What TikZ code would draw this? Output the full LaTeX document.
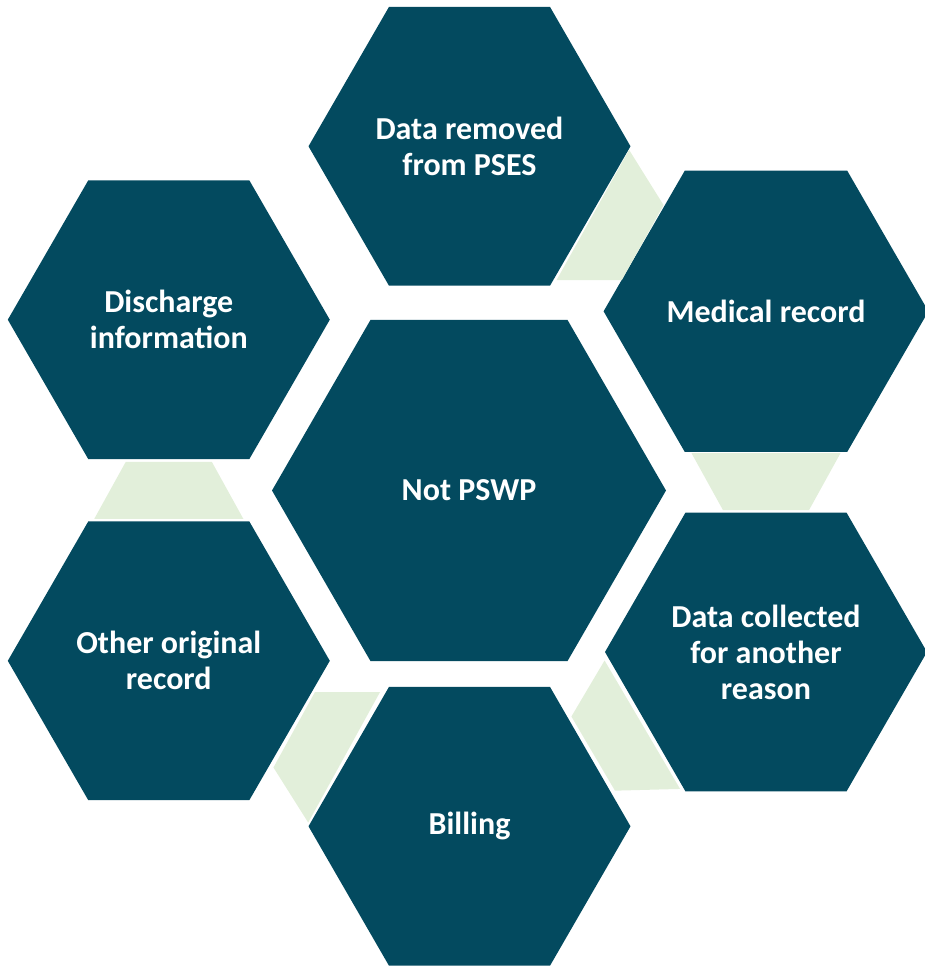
\documentclass[tikz,border=0pt]{standalone}
\usepackage{fontspec}
\setmainfont{Carlito}
\usetikzlibrary{shapes.geometric, calc}

\definecolor{hexteal}{HTML}{034A5F}
\definecolor{bandgreen}{HTML}{E2EFDA}

% trapezoid band between two neighbouring hexagons, wide side at #1
\newcommand{\band}[2]{%
  \coordinate (mid) at ($(#1)!0.5!(#2)$);
  \fill[band] let \p1 = ($(#2)-(#1)$), \n1 = {atan2(\y1,\x1)} in
    ($(mid)+(\n1+180:28.5)+(\n1+90:74.5)$) -- ($(mid)+(\n1+180:28.5)+(\n1-90:74.5)$)
    -- ($(mid)+(\n1:28.5)+(\n1-90:43)$) -- ($(mid)+(\n1:28.5)+(\n1+90:43)$) -- cycle;
}

\begin{document}
\begin{tikzpicture}[
        x=0.5pt, y=0.5pt,
        every node/.style={font=\fontsize{16}{18}\selectfont\bfseries, text=white, align=center},
        hexa/.style={regular polygon, regular polygon sides=6, fill=hexteal, inner sep=0pt, outer sep=0pt, minimum size=161pt},
        core/.style={hexa, minimum size=197pt},
        band/.style={fill=bandgreen}
    ]
    \useasboundingbox (0,0) rectangle (925,-966);

    % Hexagons
    \node (notpswp) [core] at (469,-490.5) {Not PSWP};
    \node (removed) [hexa] at (469.5,-146.3) {Data removed\\from PSES};
    \node (medical) [hexa] at (766,-311.3) {Medical record};
    \node (collected) [hexa] at (766,-652) {Data collected\\for another\\reason};
    \node (billing) [hexa] at (469.5,-826.3) {Billing};
    \node (original) [hexa] at (168.8,-660.8) {Other original\\record};
    \node (discharge) [hexa] at (168.8,-319.7) {Discharge\\information};

    % Bands
    \band{removed}{medical}
    \band{medical}{collected}
    \band{collected}{billing}
    \band{billing}{original}
    \band{original}{discharge}

\end{tikzpicture}
\end{document}
